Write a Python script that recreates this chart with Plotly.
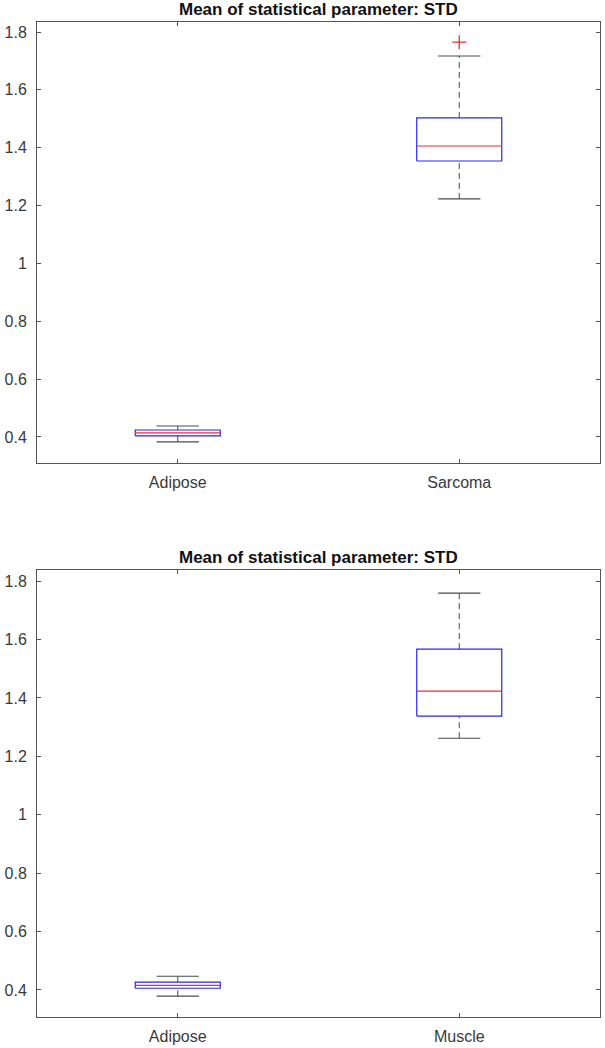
import plotly.graph_objects as go

# ---------------- data ----------------
title_text = "Mean of statistical parameter: STD"

top_categories = ["Adipose", "Sarcoma"]
top_lower_whisker = [0.383, 1.223]
top_q1 = [0.404, 1.354]
top_median = [0.414, 1.406]
top_q3 = [0.424, 1.503]
top_upper_whisker = [0.438, 1.717]
top_outliers = [[], [1.765]]

bottom_categories = ["Adipose", "Muscle"]
bottom_lower_whisker = [0.379, 1.262]
bottom_q1 = [0.406, 1.338]
bottom_median = [0.416, 1.423]
bottom_q3 = [0.427, 1.567]
bottom_upper_whisker = [0.447, 1.759]
bottom_outliers = [[], []]

y_ticks = [0.4, 0.6, 0.8, 1.0, 1.2, 1.4, 1.6, 1.8]
y_ticktext = ["0.4", "0.6", "0.8", "1", "1.2", "1.4", "1.6", "1.8"]

# ---------------- style ----------------
BOX_HALF = 0.151
CAP_HALF = 0.075
BOX_COLOR = "#2a2ae0"
MED_COLOR = "#e8303a"
WHISK_COLOR = "#4a4a4a"
AX_COLOR = "#555555"
TXT_COLOR = "#3a3a3a"
FONT = "Liberation Sans, Arial, Helvetica, sans-serif"

fig = go.Figure()


def add_boxes(lw, q1, med, q3, uw, outl, xa, ya):
    for i in range(len(med)):
        x = i + 1
        common = dict(xaxis=xa, yaxis=ya, mode="lines", showlegend=False, hoverinfo="skip")
        # whiskers (dashed)
        fig.add_trace(go.Scatter(x=[x, x], y=[q3[i], uw[i]],
                                 line=dict(color=WHISK_COLOR, width=1, dash="6px,4px"), **common))
        fig.add_trace(go.Scatter(x=[x, x], y=[lw[i], q1[i]],
                                 line=dict(color=WHISK_COLOR, width=1, dash="6px,4px"), **common))
        # caps
        fig.add_trace(go.Scatter(x=[x - CAP_HALF, x + CAP_HALF], y=[uw[i], uw[i]],
                                 line=dict(color=WHISK_COLOR, width=1.2), **common))
        fig.add_trace(go.Scatter(x=[x - CAP_HALF, x + CAP_HALF], y=[lw[i], lw[i]],
                                 line=dict(color=WHISK_COLOR, width=1.2), **common))
        # box
        fig.add_trace(go.Scatter(x=[x - BOX_HALF, x + BOX_HALF, x + BOX_HALF, x - BOX_HALF, x - BOX_HALF],
                                 y=[q1[i], q1[i], q3[i], q3[i], q1[i]],
                                 line=dict(color=BOX_COLOR, width=1.2), **common))
        # median
        fig.add_trace(go.Scatter(x=[x - BOX_HALF, x + BOX_HALF], y=[med[i], med[i]],
                                 line=dict(color=MED_COLOR, width=1.2), **common))
        # outliers
        if outl[i]:
            fig.add_trace(go.Scatter(x=[x] * len(outl[i]), y=outl[i], xaxis=xa, yaxis=ya,
                                     mode="markers", showlegend=False, hoverinfo="skip",
                                     marker=dict(symbol="cross-thin", size=10,
                                                 line=dict(color=MED_COLOR, width=1.3))))


add_boxes(top_lower_whisker, top_q1, top_median, top_q3, top_upper_whisker, top_outliers, "x", "y")
add_boxes(bottom_lower_whisker, bottom_q1, bottom_median, bottom_q3, bottom_upper_whisker,
          bottom_outliers, "x2", "y2")

W, H = 605, 1048
x_dom = [37 / W, 600 / W]
top_dom = [1 - 463 / H, 1 - 22 / H]
bot_dom = [1 - 1017 / H, 1 - 570 / H]

axis_common = dict(showline=True, linecolor=AX_COLOR, linewidth=1, mirror="ticks",
                   ticks="inside", ticklen=4, tickcolor=AX_COLOR, showgrid=False,
                   zeroline=False, automargin=False,
                   tickfont=dict(family=FONT, size=16, color=TXT_COLOR))

fig.update_layout(
    width=W, height=H,
    margin=dict(l=0, r=0, t=0, b=0, autoexpand=False),
    paper_bgcolor="white", plot_bgcolor="white",
    font=dict(family=FONT),
    xaxis=dict(domain=x_dom, range=[0.5, 2.5], tickvals=[1, 2], ticktext=top_categories,
               anchor="y", ticklabelstandoff=5, **axis_common),
    yaxis=dict(domain=top_dom, range=[0.310, 1.8346], tickvals=y_ticks, ticktext=y_ticktext,
               anchor="x", ticklabelstandoff=6, **axis_common),
    xaxis2=dict(domain=x_dom, range=[0.5, 2.5], tickvals=[1, 2], ticktext=bottom_categories,
                anchor="y2", ticklabelstandoff=5, **axis_common),
    yaxis2=dict(domain=bot_dom, range=[0.3075, 1.838], tickvals=y_ticks, ticktext=y_ticktext,
                anchor="x2", ticklabelstandoff=6, **axis_common),
    annotations=[
        dict(text="<b>" + title_text + "</b>", x=(x_dom[0] + x_dom[1]) / 2, y=top_dom[1],
             xref="paper", yref="paper", xanchor="center", yanchor="bottom", yshift=1,
             showarrow=False, font=dict(family=FONT, size=17, color="#111111")),
        dict(text="<b>" + title_text + "</b>", x=(x_dom[0] + x_dom[1]) / 2, y=bot_dom[1],
             xref="paper", yref="paper", xanchor="center", yanchor="bottom", yshift=1,
             showarrow=False, font=dict(family=FONT, size=17, color="#111111")),
    ],
)

fig.write_html("out.html", config={"displayModeBar": False},
               post_script="document.body.style.margin='0';document.body.style.overflow='hidden';")
